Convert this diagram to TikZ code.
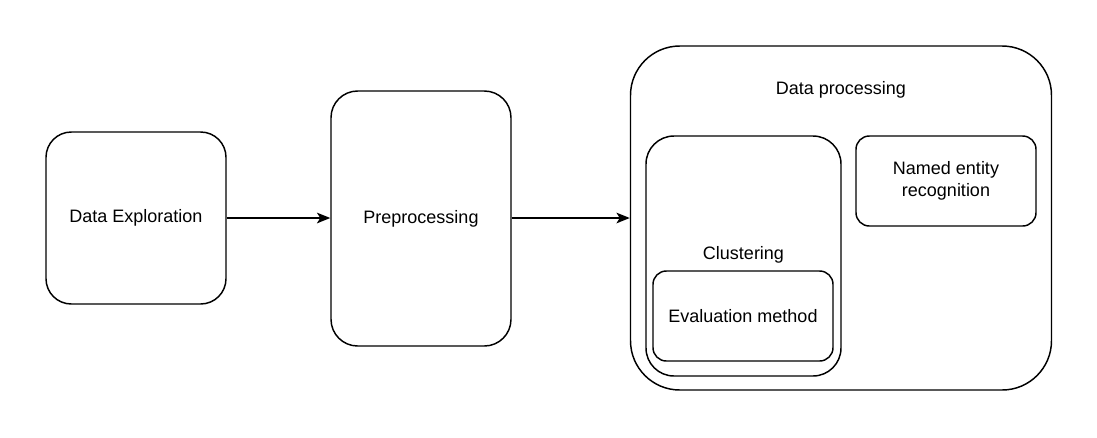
\documentclass[tikz,border=0pt]{standalone}
\usepackage{fontspec}
\setmainfont{Liberation Sans}
\usetikzlibrary{arrows.meta}
\begin{document}
\begin{tikzpicture}[x=0.75pt,y=-0.75pt,
  box/.style={draw, line width=1.1pt, inner sep=0pt, align=center, font=\fontsize{13.5pt}{16pt}\selectfont},
  lbl/.style={inner sep=0pt, font=\fontsize{13.5pt}{16pt}\selectfont},
  flow/.style={line width=1.1pt, -{Stealth[length=10pt,width=8pt,inset=2.5pt]}}]
\useasboundingbox (0,0) rectangle (1097,437);
\node[box, rounded corners=19pt, minimum width=135pt, minimum height=129pt] (explore) at (136,218) {Data Exploration};
\node[box, rounded corners=20pt, minimum width=135pt, minimum height=191.25pt] (prep) at (421,218.5) {Preprocessing};
\node[box, rounded corners=37pt, minimum width=315.75pt, minimum height=258pt] (dp) at (841,218) {};
\node[lbl] (dplbl) at (841,90) {Data processing};
\node[box, rounded corners=21pt, minimum width=146.25pt, minimum height=180pt] (clu) at (743.5,256) {};
\node[lbl] (clulbl) at (743.5,255) {Clustering};
\node[box, rounded corners=10pt, minimum width=135pt, minimum height=67.5pt] (eval) at (743,316) {Evaluation method};
\node[box, rounded corners=10pt, minimum width=135pt, minimum height=67.5pt] (ner) at (946,181) {Named entity\\recognition};
\draw[flow] (explore.east) -- (explore.east -| prep.west);
\draw[flow] (prep.east |- explore.east) -- (explore.east -| dp.west);
\end{tikzpicture}
\end{document}
